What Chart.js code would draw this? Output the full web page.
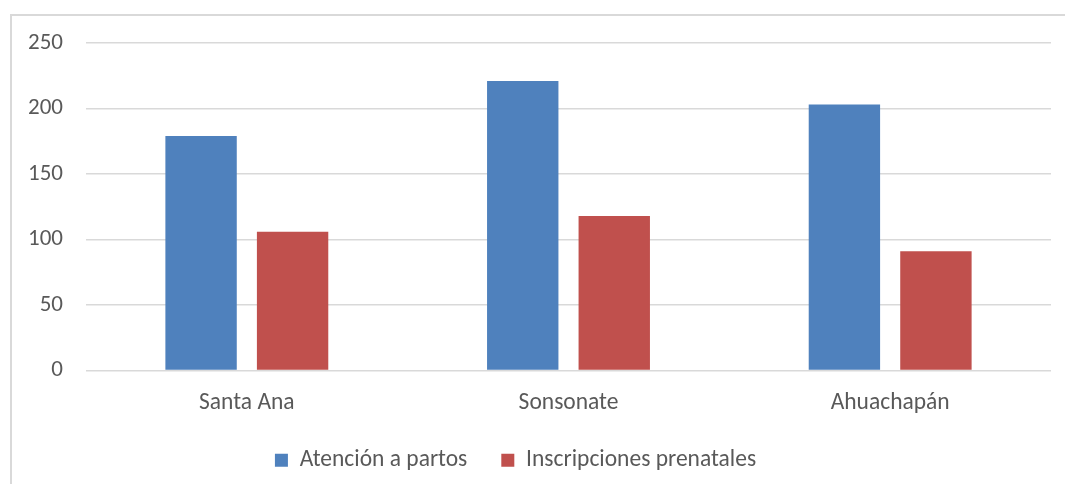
<!DOCTYPE html>
<html>
<head>
<meta charset="utf-8">
<script src="https://cdn.jsdelivr.net/npm/chart.js@4.4.1/dist/chart.umd.min.js"></script>
<style>
  html, body { margin: 0; padding: 0; background: #ffffff; }
  body { width: 1065px; height: 484px; position: relative; overflow: hidden; }
  #frame { position: absolute; left: 10px; top: 14px; width: 1200px; height: 600px;
           border-top: 2px solid #d9d9d9; border-left: 2px solid #d9d9d9; box-sizing: border-box; }
  #wrap { position: absolute; left: 0; top: 0; width: 1065px; height: 484px; }
</style>
</head>
<body>
<div id="frame"></div>
<div id="wrap"><canvas id="c" width="1065" height="484"></canvas></div>
<script>
const categories = ["Santa Ana", "Sonsonate", "Ahuachapán"];
const seriesNames = ["Atención a partos", "Inscripciones prenatales"];
const atencionPartos = [179, 221, 203];
const inscripcionesPrenatales = [106, 118, 91];
const yTicks = [0, 50, 100, 150, 200, 250];

const FONT = "Carlito, Lato, 'Liberation Sans', sans-serif";
const TEXT = "#595959";

const shiftLegend = {
  id: "shiftLegend",
  afterLayout(chart) {
    const l = chart.legend;
    if (l) { l.left -= 10; l.right -= 10; }
  }
};

new Chart(document.getElementById("c"), {
  type: "bar",
  data: {
    labels: categories,
    datasets: [
      { label: seriesNames[0], data: atencionPartos, backgroundColor: "#4F81BD",
        categoryPercentage: 0.569, barPercentage: 0.78 },
      { label: seriesNames[1], data: inscripcionesPrenatales, backgroundColor: "#C0504D",
        categoryPercentage: 0.569, barPercentage: 0.78 }
    ]
  },
  plugins: [shiftLegend],
  options: {
    responsive: false,
    animation: false,
    layout: { padding: { top: 43, bottom: 2, left: 0, right: 14 } },
    plugins: {
      tooltip: { enabled: false },
      legend: {
        position: "bottom",
        labels: {
          color: TEXT,
          font: { family: FONT, size: 23.5 },
          boxWidth: 13, boxHeight: 13, padding: 34
        }
      }
    },
    scales: {
      x: {
        grid: { display: false },
        border: { display: false },
        ticks: { color: TEXT, font: { family: FONT, size: 23.5 }, padding: 11, maxRotation: 0 },
        afterFit: s => { s.height = 44; }
      },
      y: {
        min: yTicks[0], max: yTicks[yTicks.length - 1],
        afterBuildTicks: s => { s.ticks = yTicks.map(v => ({ value: v })); },
        grid: { color: "#d9d9d9", lineWidth: 1.5, drawTicks: false },
        border: { display: false },
        ticks: { color: TEXT, font: { family: FONT, size: 23 }, padding: 23 },
        afterFit: s => { s.width = 86; }
      }
    }
  }
});
</script>
</body>
</html>
